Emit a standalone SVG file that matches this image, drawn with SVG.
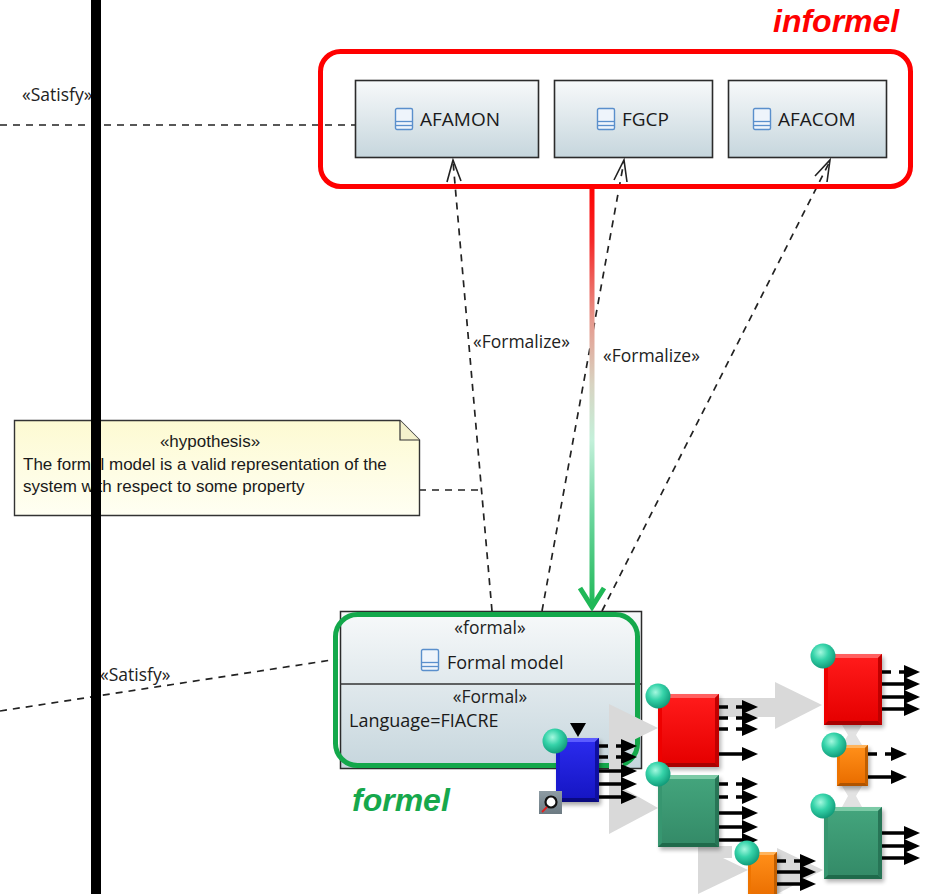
<svg xmlns="http://www.w3.org/2000/svg" width="934" height="894" viewBox="0 0 934 894">
<defs>
  <linearGradient id="boxFill" x1="0" y1="0" x2="0" y2="1">
    <stop offset="0" stop-color="#f7f9fa"/>
    <stop offset="1" stop-color="#c6d6dd"/>
  </linearGradient>
  <linearGradient id="noteFill" x1="0" y1="0" x2="0" y2="1">
    <stop offset="0" stop-color="#fdfad2"/>
    <stop offset="1" stop-color="#fffff3"/>
  </linearGradient>
  <linearGradient id="linkFill" gradientUnits="userSpaceOnUse" x1="0" y1="187" x2="0" y2="608">
    <stop offset="0" stop-color="#ff0000"/>
    <stop offset="0.13" stop-color="#f52a2a"/>
    <stop offset="0.32" stop-color="#e59a8e"/>
    <stop offset="0.47" stop-color="#d8d4c2"/>
    <stop offset="0.6" stop-color="#c4f0da"/>
    <stop offset="0.78" stop-color="#6cd69e"/>
    <stop offset="1" stop-color="#1fb857"/>
  </linearGradient>
  <radialGradient id="knob" cx="0.4" cy="0.35" r="0.7">
    <stop offset="0" stop-color="#a4f8df"/>
    <stop offset="0.45" stop-color="#35d3a9"/>
    <stop offset="1" stop-color="#0d9574"/>
  </radialGradient>
  <linearGradient id="redIn" x1="0" y1="0" x2="0" y2="1">
    <stop offset="0" stop-color="#ff1a1a"/><stop offset="1" stop-color="#e60000"/>
  </linearGradient>
  <linearGradient id="greenIn" x1="0" y1="0" x2="0" y2="1">
    <stop offset="0" stop-color="#43a47c"/><stop offset="1" stop-color="#348b68"/>
  </linearGradient>
  <linearGradient id="blueIn" x1="0" y1="0" x2="0" y2="1">
    <stop offset="0" stop-color="#2a2aec"/><stop offset="1" stop-color="#1616c4"/>
  </linearGradient>
  <linearGradient id="orangeIn" x1="0" y1="0" x2="0" y2="1">
    <stop offset="0" stop-color="#ff8e18"/><stop offset="1" stop-color="#ea6e00"/>
  </linearGradient>
  <linearGradient id="lensFill" x1="0" y1="0" x2="0" y2="1">
    <stop offset="0" stop-color="#8e9ca4"/><stop offset="1" stop-color="#6c7a82"/>
  </linearGradient>
  <filter id="soft" x="-30%" y="-30%" width="160%" height="160%">
    <feGaussianBlur stdDeviation="2"/>
  </filter>
  <path id="ah" d="M0,-7 L16,0 L0,7 Z"/>
  <g id="classIcon">
    <rect x="0.5" y="0.5" width="17" height="21" rx="1.5" fill="#eef4fb" stroke="#5a8fcc" stroke-width="1.4"/>
    <line x1="0.5" y1="13.5" x2="17.5" y2="13.5" stroke="#5a8fcc" stroke-width="1.3"/>
    <line x1="0.5" y1="17.5" x2="17.5" y2="17.5" stroke="#5a8fcc" stroke-width="1.3"/>
  </g>
</defs>
<style>
  .lbl { font-family: "Open Sans", "Noto Sans", sans-serif; font-size: 17.5px; fill: #222; }
  .name { font-family: "Open Sans", "Noto Sans", sans-serif; font-size: 18px; fill: #1a1a1a; }
  .big { font-size: 19px; }
  .note { font-family: "Liberation Sans", Arial, sans-serif; font-size: 17px; fill: #1a1a1a; }
  .node { fill: url(#boxFill); stroke: #2b2b2b; stroke-width: 1.6; }
  .dash { fill: none; stroke: #222; stroke-width: 1.7; stroke-dasharray: 7 6; }
  .open { fill: none; stroke: #222; stroke-width: 1.6; }
  .port { stroke: #000; stroke-width: 3.5; }
  .portd { stroke: #000; stroke-width: 3.5; stroke-dasharray: 9 8; }
  .flow { fill: #d9d9d9; }
  .knob { fill: url(#knob); }
  .title { font-family: "Liberation Sans", Arial, sans-serif; font-size: 32px; font-weight: bold; font-style: italic; }
</style>

<rect width="934" height="894" fill="#ffffff"/>

<!-- connectors -->
<g id="connectors">
  <!-- satisfy links -->
  <line class="dash" x1="0" y1="125" x2="355" y2="125"/>
  <line class="dash" x1="0" y1="711" x2="338" y2="659"/>
  <!-- hypothesis attachment -->
  <line class="dash" x1="419" y1="490" x2="481" y2="490"/>
  <!-- formalize links -->
  <line class="dash" x1="492" y1="611" x2="453" y2="161"/>
  <polyline class="open" points="447,182 453,160 461,181"/>
  <line class="dash" x1="542" y1="611" x2="624" y2="161"/>
  <polyline class="open" points="614,180 624,160 627,182"/>
  <line class="dash" x1="602" y1="611" x2="830" y2="161"/>
  <polyline class="open" points="815,176 830,160 827,182"/>
  <text class="lbl" x="473" y="348">«Formalize»</text>
  <text class="lbl" x="603" y="362">«Formalize»</text>
  <text class="lbl" x="22" y="101">«Satisfy»</text>
  <text class="lbl" x="100" y="681">«Satisfy»</text>
</g>

<!-- requirement blocks -->
<g id="afamon">
  <rect class="node" x="355.5" y="80.5" width="183" height="77"/>
  <use href="#classIcon" x="395" y="108"/>
  <text class="name big" x="420" y="126">AFAMON</text>
</g>
<g id="fgcp">
  <rect class="node" x="554.5" y="80.5" width="158" height="77"/>
  <use href="#classIcon" x="597" y="108"/>
  <text class="name big" x="622" y="126">FGCP</text>
</g>
<g id="afacom">
  <rect class="node" x="728.5" y="80.5" width="158" height="77"/>
  <use href="#classIcon" x="753" y="108"/>
  <text class="name big" x="778" y="126">AFACOM</text>
</g>

<!-- hypothesis note -->
<g id="hypothesis">
  <path d="M14.5,420.5 H400 L419.5,440 V515.5 H14.5 Z" fill="url(#noteFill)" stroke="#333" stroke-width="1.4"/>
  <path d="M400,420.5 V440 H419.5" fill="#f4f1cc" stroke="#333" stroke-width="1.2"/>
  <text class="note" x="210" y="447" text-anchor="middle">«hypothesis»</text>
  <text class="note" x="23" y="470">The formal model is a valid representation of the</text>
  <text class="note" x="23" y="492">system with respect to some property</text>
</g>

<!-- formal model block -->
<g id="formal-model">
  <rect x="340.5" y="611.5" width="301" height="157" fill="url(#boxFill)" stroke="#2b2b2b" stroke-width="1.5"/>
  <line x1="340" y1="684" x2="641" y2="684" stroke="#333" stroke-width="1.5"/>
  <text class="lbl" x="490" y="634" text-anchor="middle">«formal»</text>
  <use href="#classIcon" x="421" y="649"/>
  <text class="name" x="447" y="669">Formal model</text>
  <text class="lbl" x="490" y="703" text-anchor="middle">«Formal»</text>
  <text class="name" x="349" y="727">Language=FIACRE</text>
</g>

<!-- grouping frames -->
<g id="informal-frame">
  <rect x="320.5" y="51.5" width="590" height="135" rx="20" fill="none" stroke="#ff0000" stroke-width="5"/>
  <text class="title" x="773" y="32" fill="#ff0000">informel</text>
</g>
<g id="formal-frame">
  <rect x="335.5" y="614.5" width="302" height="151" rx="22" fill="none" stroke="#13a84b" stroke-width="5"/>
  <text class="title" x="352" y="811" fill="#16a84c">formel</text>
</g>

<!-- refinement link informal to formal -->
<g id="refinement">
  <line x1="592" y1="188" x2="592" y2="606" stroke="url(#linkFill)" stroke-width="5"/>
  <polyline points="580,588 592,607 604,588" fill="none" stroke="#1fb857" stroke-width="5" stroke-linejoin="miter"/>
</g>

<!-- FIACRE component view -->
<g id="fiacre-view">
  <!-- data flow shapes -->
  <polygon class="flow" points="609,704 658,728 609,752"/>
  <rect class="flow" x="609" y="745" width="14" height="45"/>
  <polygon class="flow" points="609,780 658,808 609,834"/>
  <rect class="flow" x="719" y="698" width="57" height="19"/>
  <polygon class="flow" points="775,682 822,705 775,729"/>
  <polygon class="flow" points="698,846 748,870 698,894"/>
  <rect class="flow" x="700" y="846" width="32" height="12"/>
  <polygon class="flow" points="777,848 823,870 777,894"/>
  <path d="M842,725 H862 L856,735 L862,745 H842 L848,735 Z" fill="#e2e2e2"/>
  <path d="M842,786 H862 L856,796 L862,807 H842 L848,796 Z" fill="#e2e2e2"/>

  <!-- blue process -->
  <g id="blue-process">
    <rect x="558" y="741" width="43" height="64" fill="#000" opacity="0.35" filter="url(#soft)"/>
    <rect x="556" y="738" width="43" height="64" fill="#1a1ad0"/>
    <polygon points="556,738 599,738 595,742 560,742" fill="#5c5cff"/>
    <polygon points="599,738 599,802 595,798 595,742" fill="#0f0fa0"/>
    <polygon points="556,802 599,802 595,798 560,798" fill="#0a0a80"/>
    <rect x="560" y="742" width="35" height="56" fill="url(#blueIn)"/>
    <polygon points="570,723 586,723 578,737" fill="#000"/>
    <circle class="knob" cx="555" cy="741" r="12.5"/>
  </g>
  <g id="blue-ports">
    <line class="portd" x1="599" y1="746" x2="622" y2="746"/><use href="#ah" x="621" y="746"/>
    <line class="portd" x1="599" y1="757" x2="622" y2="757"/><use href="#ah" x="621" y="757"/>
    <line class="port" x1="599" y1="771" x2="622" y2="771"/><use href="#ah" x="621" y="771"/>
    <line class="port" x1="599" y1="784" x2="622" y2="784"/><use href="#ah" x="621" y="784"/>
    <line class="port" x1="599" y1="797" x2="622" y2="797"/><use href="#ah" x="621" y="797"/>
  </g>
  <g id="lens-tool">
    <rect x="539" y="791" width="23" height="23" fill="url(#lensFill)"/>
    <circle cx="551" cy="802" r="5.5" fill="#fff" stroke="#111" stroke-width="2.2"/>
    <line x1="542" y1="812" x2="547" y2="807" stroke="#e0201e" stroke-width="1.8"/>
  </g>

  <!-- red process 1 -->
  <g id="red-process-1">
    <rect x="660" y="697" width="61" height="73" fill="#000" opacity="0.3" filter="url(#soft)"/>
    <rect x="658" y="694" width="61" height="73" fill="#ee0000"/>
    <polygon points="658,694 719,694 715,698 662,698" fill="#ff6060"/>
    <polygon points="719,694 719,767 715,763 715,698" fill="#c00000"/>
    <polygon points="658,767 719,767 715,763 662,763" fill="#a80000"/>
    <rect x="662" y="698" width="53" height="65" fill="url(#redIn)"/>
    <circle class="knob" cx="658" cy="696" r="12.5"/>
  </g>
  <g id="red-ports-1">
    <line class="portd" x1="719" y1="707" x2="743" y2="707"/><use href="#ah" x="742" y="707"/>
    <line class="portd" x1="719" y1="718" x2="743" y2="718"/><use href="#ah" x="742" y="718"/>
    <line class="portd" x1="719" y1="729" x2="743" y2="729"/><use href="#ah" x="742" y="729"/>
    <line class="port" x1="719" y1="754" x2="743" y2="754"/><use href="#ah" x="742" y="754"/>
  </g>

  <!-- green process 1 -->
  <g id="green-process-1">
    <rect x="660" y="778" width="61" height="72" fill="#000" opacity="0.3" filter="url(#soft)"/>
    <rect x="658" y="775" width="61" height="72" fill="#379670"/>
    <polygon points="658,775 719,775 715,779 662,779" fill="#7ccaa6"/>
    <polygon points="719,775 719,847 715,843 715,779" fill="#277556"/>
    <polygon points="658,847 719,847 715,843 662,843" fill="#1f6a4b"/>
    <rect x="662" y="779" width="53" height="64" fill="url(#greenIn)"/>
    <circle class="knob" cx="658" cy="774" r="12.5"/>
  </g>
  <g id="green-ports-1">
    <line class="portd" x1="719" y1="784" x2="743" y2="784"/><use href="#ah" x="742" y="784"/>
    <line class="portd" x1="719" y1="797" x2="743" y2="797"/><use href="#ah" x="742" y="797"/>
    <line class="port" x1="719" y1="813" x2="743" y2="813"/><use href="#ah" x="742" y="813"/>
    <line class="port" x1="719" y1="827" x2="743" y2="827"/><use href="#ah" x="742" y="827"/>
    <line class="port" x1="719" y1="840" x2="743" y2="840"/><use href="#ah" x="742" y="840"/>
  </g>

  <!-- orange process 1 -->
  <g id="orange-process-1">
    <rect x="750" y="855" width="29" height="45" fill="#000" opacity="0.3" filter="url(#soft)"/>
    <rect x="748" y="852" width="29" height="45" fill="#ee7400"/>
    <polygon points="748,852 777,852 774,855 751,855" fill="#ffb45c"/>
    <polygon points="777,852 777,897 774,894 774,855" fill="#c05e00"/>
    <rect x="751" y="855" width="23" height="42" fill="url(#orangeIn)"/>
    <circle class="knob" cx="747" cy="853" r="12.5"/>
  </g>
  <g id="orange-ports-1">
    <line class="portd" x1="777" y1="861" x2="801" y2="861"/><use href="#ah" x="800" y="861"/>
    <line class="port" x1="777" y1="872" x2="801" y2="872"/><use href="#ah" x="800" y="872"/>
    <line class="port" x1="777" y1="884" x2="801" y2="884"/><use href="#ah" x="800" y="884"/>
  </g>

  <!-- red process 2 -->
  <g id="red-process-2">
    <rect x="826" y="657" width="58" height="71" fill="#000" opacity="0.3" filter="url(#soft)"/>
    <rect x="824" y="654" width="58" height="71" fill="#ee0000"/>
    <polygon points="824,654 882,654 878,658 828,658" fill="#ff6060"/>
    <polygon points="882,654 882,725 878,721 878,658" fill="#c00000"/>
    <polygon points="824,725 882,725 878,721 828,721" fill="#a80000"/>
    <rect x="828" y="658" width="50" height="63" fill="url(#redIn)"/>
    <circle class="knob" cx="823" cy="656" r="12.5"/>
  </g>
  <g id="red-ports-2">
    <line class="portd" x1="882" y1="672" x2="905" y2="672"/><use href="#ah" x="904" y="672"/>
    <line class="port" x1="882" y1="684" x2="905" y2="684"/><use href="#ah" x="904" y="684"/>
    <line class="port" x1="882" y1="697" x2="905" y2="697"/><use href="#ah" x="904" y="697"/>
    <line class="port" x1="882" y1="709" x2="905" y2="709"/><use href="#ah" x="904" y="709"/>
  </g>

  <!-- orange process 2 -->
  <g id="orange-process-2">
    <rect x="839" y="748" width="31" height="41" fill="#000" opacity="0.3" filter="url(#soft)"/>
    <rect x="837" y="745" width="31" height="41" fill="#ee7400"/>
    <polygon points="837,745 868,745 865,748 840,748" fill="#ffb45c"/>
    <polygon points="868,745 868,786 865,783 865,748" fill="#c05e00"/>
    <polygon points="837,786 868,786 865,783 840,783" fill="#b05400"/>
    <rect x="840" y="748" width="25" height="35" fill="url(#orangeIn)"/>
    <circle class="knob" cx="834" cy="745" r="12.5"/>
  </g>
  <g id="orange-ports-2">
    <line class="portd" x1="868" y1="754" x2="892" y2="754"/><use href="#ah" x="891" y="754"/>
    <line class="port" x1="868" y1="777" x2="892" y2="777"/><use href="#ah" x="891" y="777"/>
  </g>

  <!-- green process 2 -->
  <g id="green-process-2">
    <rect x="826" y="810" width="58" height="72" fill="#000" opacity="0.3" filter="url(#soft)"/>
    <rect x="824" y="807" width="58" height="72" fill="#379670"/>
    <polygon points="824,807 882,807 878,811 828,811" fill="#7ccaa6"/>
    <polygon points="882,807 882,879 878,875 878,811" fill="#277556"/>
    <polygon points="824,879 882,879 878,875 828,875" fill="#1f6a4b"/>
    <rect x="828" y="811" width="50" height="64" fill="url(#greenIn)"/>
    <circle class="knob" cx="823" cy="806" r="12.5"/>
  </g>
  <g id="green-ports-2">
    <line class="port" x1="882" y1="833" x2="905" y2="833"/><use href="#ah" x="904" y="833"/>
    <line class="port" x1="882" y1="846" x2="905" y2="846"/><use href="#ah" x="904" y="846"/>
    <line class="port" x1="882" y1="858" x2="905" y2="858"/><use href="#ah" x="904" y="858"/>
  </g>
</g>

<!-- separator bar -->
<rect id="separator" x="91" y="0" width="10" height="894" fill="#000"/>
</svg>
